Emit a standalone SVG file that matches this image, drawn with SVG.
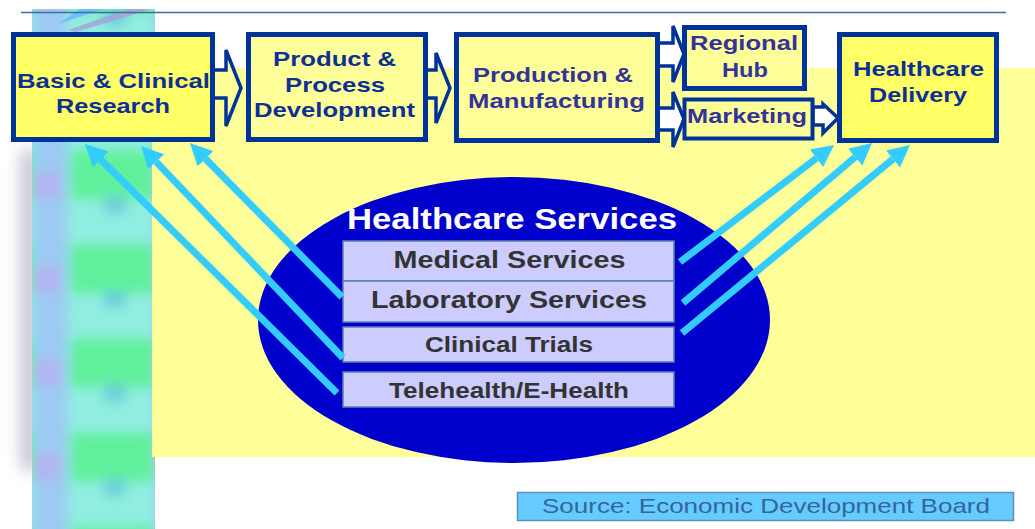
<svg xmlns="http://www.w3.org/2000/svg" width="1035" height="529" viewBox="0 0 1035 529">
<defs>
<style>
.box{stroke:#003399;stroke-width:5}
.hi{fill:#ffff66}
.lo{fill:#ffff99}
.blk{stroke:#003399;stroke-width:3.5;stroke-linejoin:miter}
.t{font-family:"Liberation Sans",Arial,sans-serif;font-weight:bold;text-anchor:middle}
.tb{fill:#0d3094;font-size:20.5px}
.tp{fill:#333399;font-size:20.5px}
.svc{fill:#ccccff;stroke:#5f7fae;stroke-width:1.5}
.ts{fill:#333333}
.cy{stroke:#33ccff;stroke-width:7;fill:none;marker-end:url(#ah)}
</style>
<marker id="ah" markerUnits="userSpaceOnUse" markerWidth="22" markerHeight="22" viewBox="0 0 22 22" refX="0" refY="11" orient="auto">
<path d="M0,0 L22,11 L0,22 z" fill="#33ccff"/>
</marker>
<pattern id="chk" patternUnits="userSpaceOnUse" x="32" y="30" width="123" height="94">
<rect width="123" height="94" fill="#90eee0"/>
<rect x="0" y="0" width="36" height="94" fill="#9ccaf4"/>
<rect x="0" y="48" width="28" height="26" fill="#b2b4f0"/>
<rect x="38" y="26" width="85" height="50" fill="#60f09c"/>
<rect x="72" y="72" width="22" height="18" fill="#6ccfd8"/>
</pattern>
<filter id="bl" x="-20%" y="-5%" width="140%" height="110%"><feGaussianBlur stdDeviation="6"/></filter>
<filter id="sh" x="-200%" y="-20%" width="500%" height="140%"><feGaussianBlur stdDeviation="8"/></filter>
<clipPath id="stripclip"><rect x="32" y="9" width="123" height="520"/></clipPath>
</defs>

<g id="background">
<rect x="22" y="150" width="14" height="320" fill="#9a9ab4" filter="url(#sh)" opacity="0.7"/>
<g clip-path="url(#stripclip)">
<rect x="32" y="9" width="123" height="520" fill="#90eee0"/>
<g filter="url(#bl)">
<rect x="20" y="-20" width="150" height="560" fill="url(#chk)"/>
</g>
<polygon points="58,24 80,9 104,9" fill="#6fc0fa"/>
<polygon points="68,30 128,9 152,9 76,32" fill="#a8a0d8" opacity="0.8"/>
</g>
<rect x="152" y="68" width="883" height="389" fill="#ffff99"/>
<line x1="21" y1="12.5" x2="1006" y2="12.5" stroke="#3a6ea5" stroke-width="1.5"/>
</g>

<g id="healthcare-services">
<ellipse cx="514" cy="320" rx="256" ry="143" fill="#0000cc"/>
<text class="t" x="512" y="229" fill="#ffffff" font-size="29" textLength="330" lengthAdjust="spacingAndGlyphs">Healthcare Services</text>
</g>
<g id="medical-services">
<rect class="svc" x="343" y="241" width="331" height="40"/>
<text class="t ts" x="509.5" y="268" font-size="23.5" textLength="232" lengthAdjust="spacingAndGlyphs">Medical Services</text>
</g>
<g id="laboratory-services">
<rect class="svc" x="343" y="281" width="331" height="41"/>
<text class="t ts" x="509" y="308" font-size="23.5" textLength="276" lengthAdjust="spacingAndGlyphs">Laboratory Services</text>
</g>
<g id="clinical-trials">
<rect class="svc" x="343" y="327" width="331" height="35"/>
<text class="t ts" x="509" y="352" font-size="21.5" textLength="168" lengthAdjust="spacingAndGlyphs">Clinical Trials</text>
</g>
<g id="telehealth">
<rect class="svc" x="343" y="372" width="331" height="35"/>
<text class="t ts" x="509" y="398" font-size="21.5" textLength="240" lengthAdjust="spacingAndGlyphs">Telehealth/E-Health</text>
</g>

<g id="connectors">
<line class="cy" x1="342" y1="297" x2="205.4" y2="158.7"/>
<line class="cy" x1="343" y1="358" x2="156.2" y2="161.9"/>
<line class="cy" x1="337" y1="393" x2="100.6" y2="159.5"/>
<line class="cy" x1="680" y1="262" x2="816.5" y2="158.3"/>
<line class="cy" x1="683" y1="303" x2="855.2" y2="157.2"/>
<line class="cy" x1="682" y1="333" x2="893" y2="159"/>
<polygon class="blk" fill="#ffff99" points="213,70 226,70 226,50 241,88 226,126 226,98 213,98"/>
<polygon class="blk" fill="#ffff99" points="426,70 436,70 436,53 450,88 436,123 436,98 426,98"/>
<polygon class="blk" fill="#ffffff" points="658,43 673,43 673,26 684,54 673,82 673,66 658,66"/>
<polygon class="blk" fill="#ffffff" points="658,108 673,108 673,92 684,119 673,147 673,130 658,130"/>
<polygon class="blk" fill="#ffffff" points="813,107 823,107 823,104 838,118 823,133 823,125 813,125"/>
</g>

<g id="basic-clinical-research">
<rect class="box hi" x="13.5" y="34.5" width="199" height="105"/>
<text class="t tb" x="113.5" y="87.5" textLength="193" lengthAdjust="spacingAndGlyphs">Basic &amp; Clinical</text>
<text class="t tb" x="113" y="112.5" textLength="114" lengthAdjust="spacingAndGlyphs">Research</text>
</g>
<g id="product-process-development">
<rect class="box lo" x="248.5" y="34.5" width="177" height="105"/>
<text class="t tb" x="334.5" y="65.5" textLength="123" lengthAdjust="spacingAndGlyphs">Product &amp;</text>
<text class="t tb" x="335" y="91.5" textLength="100" lengthAdjust="spacingAndGlyphs">Process</text>
<text class="t tb" x="334.5" y="117" textLength="161" lengthAdjust="spacingAndGlyphs">Development</text>
</g>
<g id="production-manufacturing">
<rect class="box lo" x="456.5" y="34.5" width="201" height="106"/>
<text class="t tp" x="553" y="82" textLength="160" lengthAdjust="spacingAndGlyphs">Production &amp;</text>
<text class="t tp" x="556.5" y="108" textLength="177" lengthAdjust="spacingAndGlyphs">Manufacturing</text>
</g>
<g id="regional-hub">
<rect class="box lo" x="684.5" y="27.5" width="120" height="61"/>
<text class="t tp" x="744" y="50" font-size="19" textLength="108" lengthAdjust="spacingAndGlyphs">Regional</text>
<text class="t tp" x="745" y="77" font-size="19" textLength="46" lengthAdjust="spacingAndGlyphs">Hub</text>
</g>
<g id="marketing">
<rect class="box lo" x="684.5" y="99.5" width="128" height="39" style="stroke-width:4"/>
<text class="t tp" x="747" y="123" font-size="21" textLength="120" lengthAdjust="spacingAndGlyphs">Marketing</text>
</g>
<g id="healthcare-delivery">
<rect class="box hi" x="839.5" y="34.5" width="157" height="106"/>
<text class="t tb" x="918.5" y="75.5" textLength="131" lengthAdjust="spacingAndGlyphs">Healthcare</text>
<text class="t tb" x="918" y="101.5" textLength="98" lengthAdjust="spacingAndGlyphs">Delivery</text>
</g>

<g id="source">
<rect x="517.5" y="492.5" width="496" height="28" fill="#66ccff" stroke="#5e8fba" stroke-width="1.5"/>
<text x="766" y="513" font-family="'Liberation Sans',Arial,sans-serif" font-size="21" fill="#336699" text-anchor="middle" textLength="448" lengthAdjust="spacingAndGlyphs">Source: Economic Development Board</text>
</g>
</svg>
